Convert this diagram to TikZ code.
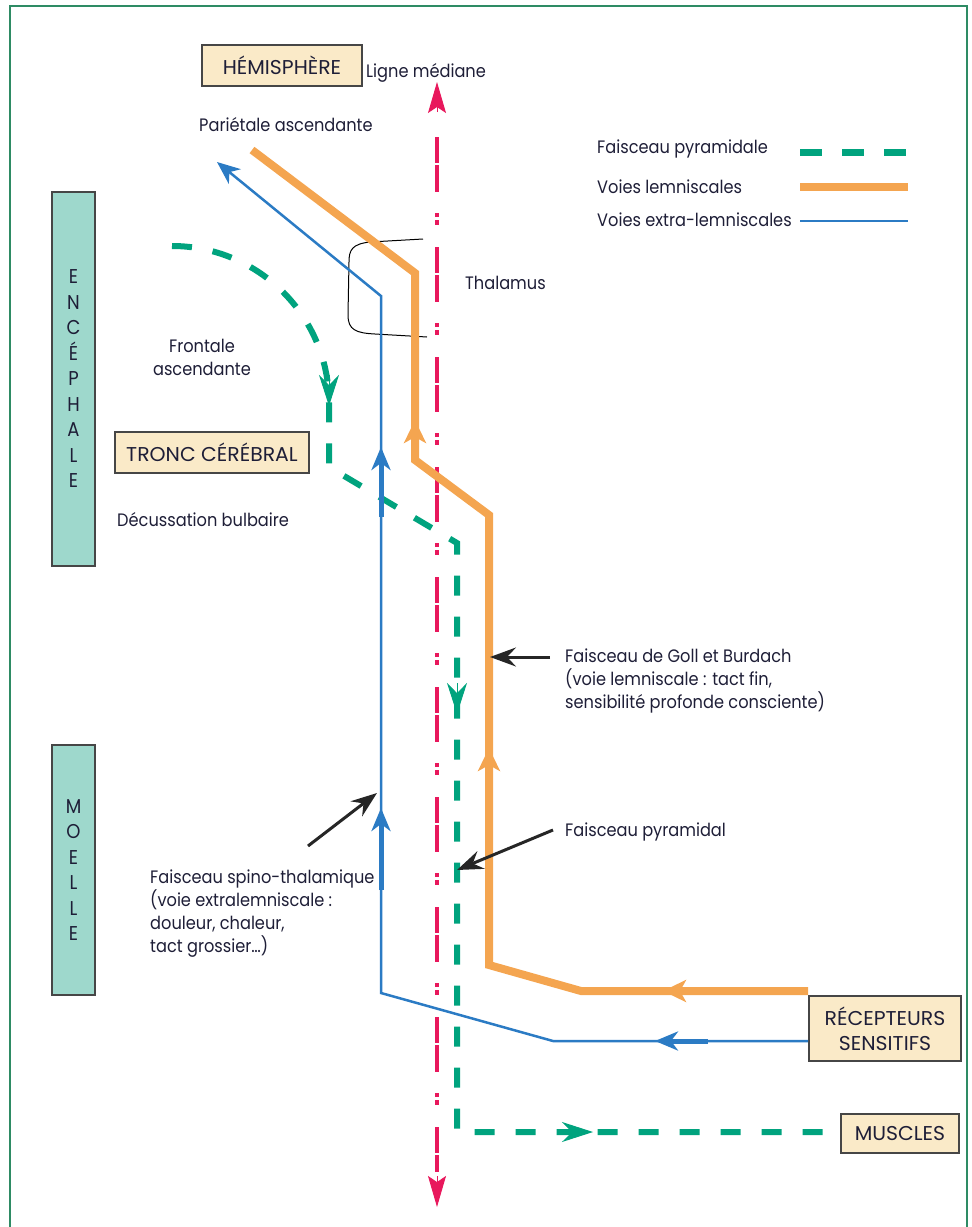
\documentclass[tikz,border=0pt]{standalone}
\usepackage{fontspec}
\setmainfont{Poppins}[FakeStretch=0.9]
\newfontfamily\boxfam{Poppins}[FakeStretch=1.02]
\usetikzlibrary{arrows.meta}
\definecolor{frameg}{RGB}{46,139,100}
\definecolor{greenc}{RGB}{0,163,126}
\definecolor{orangec}{RGB}{244,165,80}
\definecolor{bluec}{RGB}{43,123,196}
\definecolor{pinkc}{RGB}{232,24,92}
\definecolor{beigebox}{RGB}{250,234,200}
\definecolor{tealbox}{RGB}{158,216,204}
\definecolor{boxb}{RGB}{70,70,70}
\definecolor{txt}{RGB}{30,30,55}
\newcommand\lblfont{\fontsize{18}{23}\selectfont}
\newcommand\boxfont{\boxfam\fontsize{20}{25}\selectfont}
\newcommand\vfont{\fontsize{20}{25.5}\selectfont}
\tikzset{
  lab/.style={font=\lblfont, text=txt, inner sep=0pt},
  box/.style={draw=boxb, line width=2pt, fill=beigebox, font=\boxfont, text=txt, inner sep=0pt, align=center},
  vbox/.style={draw=boxb, line width=2pt, fill=tealbox, font=\vfont, text=txt, inner sep=0pt, align=center, minimum width=43pt},
  bluepath/.style={draw=bluec, line width=2.5pt, line join=miter},
  orangepath/.style={draw=orangec, line width=8pt, line join=miter},
  greenpath/.style={draw=greenc, line width=6pt, dash pattern=on 20pt off 21pt},
  pinkpath/.style={draw=pinkc, line width=4pt, dash pattern=on 26pt off 2pt on 27pt off 21pt on 4pt off 3pt on 5pt off 22pt},
  bluetip/.style={draw=bluec, line width=5pt, -{Stealth[length=23pt,width=19pt,inset=7pt]}},
  orangetip/.style={draw=orangec, line width=8pt, -{Stealth[length=23pt,width=22pt,inset=6pt]}},
  greentip/.style={draw=greenc, line width=1pt, fill=greenc, -{Stealth[length=31pt,width=20pt,inset=10pt]}},
  pinktip/.style={draw=pinkc, line width=1pt, -{Stealth[length=31pt,width=18pt,inset=6pt]}},
  annot/.style={draw=black!85, line width=3pt, -{Stealth[length=26pt,width=19pt,inset=9pt]}},
}
\begin{document}
\begin{tikzpicture}[x=1pt,y=-1pt]
\useasboundingbox (0,0) rectangle (972,1227);
% frame
\draw[frameg, line width=2pt] (10,1227) -- (10,6) -- (967,6) -- (967,1227);

% boxes
\node[box, minimum width=160pt, minimum height=41pt] (hem) at (282,65.5) {HÉMISPHÈRE};
\node[box, minimum width=194pt, minimum height=41pt] (tronc) at (212,452.5) {TRONC CÉRÉBRAL};
\node[box, minimum width=152pt, minimum height=65pt] (recep) at (885,1028.5) {RÉCEPTEURS\\SENSITIFS};
\node[box, minimum width=118pt, minimum height=39pt] (musc) at (900,1133.5) {MUSCLES};
\node[vbox, minimum height=374pt] (ence) at (73.5,379) {E\\N\\C\\É\\P\\H\\A\\L\\E};
\node[vbox, minimum height=250pt] (moelle) at (73.5,870) {M\\O\\E\\L\\L\\E};

% labels
\node[lab, anchor=west] (lmed) at (366,73) {Ligne médiane};
\node[lab, anchor=west] (par) at (199,125) {Pariétale ascendante};
\node[lab, align=center] (front) at (202,357) {Frontale\\ascendante};
\node[lab, anchor=west] (thal) at (465,283) {Thalamus};
\node[lab, anchor=west] (decus) at (117,520) {Décussation bulbaire};
\node[lab, anchor=west, align=left] (goll) at (565,680.5) {Faisceau de Goll et Burdach\\(voie lemniscale : tact fin,\\sensibilité profonde consciente)};
\node[lab, anchor=west] (pyr) at (565,832) {Faisceau pyramidal};
\node[lab, anchor=west, align=left] (spino) at (150,913.5) {Faisceau spino-thalamique\\(voie extralemniscale :\\douleur, chaleur,\\tact grossier…)};

% legend
\node[lab, anchor=west] (lg1) at (597,149) {Faisceau pyramidale};
\node[lab, anchor=west] (lg2) at (597,187) {Voies lemniscales};
\node[lab, anchor=west] (lg3) at (597,220) {Voies extra-lemniscales};
\coordinate (lg1a) at (800,152); \coordinate (lg1b) at (908,152);
\coordinate (lg2a) at (800,187); \coordinate (lg2b) at (908,187);
\coordinate (lg3a) at (800,221); \coordinate (lg3b) at (908,221);
\draw[draw=greenc, line width=7pt, dash pattern=on 22pt off 20pt] (lg1a) -- (lg1b);
\draw[draw=orangec, line width=8pt] (lg2a) -- (lg2b);
\draw[draw=bluec, line width=1.5pt] (lg3a) -- (lg3b);

% midline
\coordinate (m0) at (437,82); \coordinate (m1) at (437,137);
\coordinate (m2) at (437,1172); \coordinate (m3) at (437,1207);
\draw[pinkpath] (m1) -- (m2);
\draw[pinktip] (437,112) -- (m0);
\draw[pinktip] (437,1176) -- (m3);

% thalamus outline
\coordinate (t0) at (423,239); \coordinate (t1) at (427,337);
\draw[black, line width=1pt] (t0) -- (370,242) .. controls (352,244) and (349,250) .. (349,262)
  -- (348,315) .. controls (348,330) and (356,333) .. (375,334) -- (t1);

% pyramidal (green)
\coordinate (g0) at (172,246); \coordinate (g1) at (329,403);
\coordinate (g2) at (329,467); \coordinate (g3) at (457,543);
\coordinate (g4) at (457,1132);
\draw[greenpath] (g0) .. controls (258.7,246) and (329,316.3) .. (g1) -- (g2) -- (g3) -- (g4) -- ([xshift=-5pt]g4 -| musc.west);
\draw[greentip] (329,375) -- (329,406);
\draw[greentip] (457,683) -- (457,714);
\draw[greentip] (562,1132) -- (593,1132);

% extra-lemniscal (blue)
\coordinate (b0) at (217,162); \coordinate (b1) at (381,296);
\coordinate (b2) at (381,993); \coordinate (b3) at (553,1041);
\draw[bluepath, {Stealth[length=23pt,width=19pt,inset=7pt]}-] (b0) -- (b1) -- (b2) -- (b3) -- (b3 -| recep.west);
\draw[bluetip] (708,1041) -- (655,1041);
\draw[bluetip] (381,890) -- (381,808);
\draw[bluetip] (381,517) -- (381,447);

% lemniscal (orange)
\coordinate (o0) at (252,150); \coordinate (o1) at (415,273);
\coordinate (o2) at (415,460); \coordinate (o3) at (489,515);
\coordinate (o4) at (489,965); \coordinate (o5) at (581,991);
\draw[orangepath] (o0) -- (o1) -- (o2) -- (o3) -- (o4) -- (o5) -- (o5 -| recep.west);
\draw[orangetip] (415,450) -- (415,420);
\draw[orangetip] (489,780) -- (489,748);
\draw[orangetip] (700,991) -- (663,991);

% annotation arrows
\coordinate (ga) at (550,657); \coordinate (gb) at (490,657);
\coordinate (pa) at (553,830); \coordinate (pb) at (457,870);
\coordinate (sa) at (308,846); \coordinate (sb) at (377,793);
\draw[annot] (ga) -- (gb);
\draw[annot] (pa) -- (pb);
\draw[annot] (sa) -- (sb);
\end{tikzpicture}
\end{document}
